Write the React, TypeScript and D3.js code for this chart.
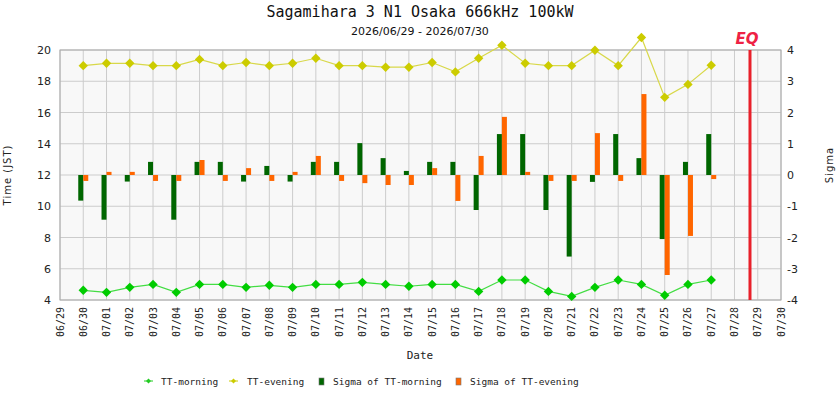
import React, { useEffect, useRef } from 'react'
import * as d3 from 'd3'

// dates of the observations (06/30 .. 07/27)
const days = [
  '06/30', '07/01', '07/02', '07/03', '07/04', '07/05', '07/06', '07/07', '07/08', '07/09',
  '07/10', '07/11', '07/12', '07/13', '07/14', '07/15', '07/16', '07/17', '07/18', '07/19',
  '07/20', '07/21', '07/22', '07/23', '07/24', '07/25', '07/26', '07/27',
]
const ttMorning = [
  4.62, 4.49, 4.81, 5.0, 4.49, 5.0, 5.0, 4.81, 4.94, 4.81,
  5.0, 5.0, 5.13, 5.0, 4.88, 5.0, 5.0, 4.55, 5.28, 5.28,
  4.55, 4.23, 4.81, 5.28, 5.0, 4.3, 5.0, 5.28,
]
const ttEvening = [
  19.0, 19.15, 19.15, 19.0, 19.0, 19.4, 19.0, 19.2, 19.0, 19.15,
  19.47, 19.0, 19.0, 18.9, 18.9, 19.2, 18.6, 19.47, 20.3, 19.15,
  19.0, 19.0, 19.98, 19.0, 20.8, 16.97, 17.8, 19.02,
]
const sigmaMorning = [
  -0.82, -1.43, -0.21, 0.42, -1.43, 0.42, 0.42, -0.21, 0.29, -0.21,
  0.42, 0.42, 1.02, 0.54, 0.13, 0.42, 0.42, -1.12, 1.31, 1.31,
  -1.12, -2.61, -0.22, 1.31, 0.54, -2.05, 0.42, 1.31,
]
const sigmaEvening = [
  -0.19, 0.1, 0.1, -0.19, -0.19, 0.48, -0.19, 0.22, -0.19, 0.1,
  0.61, -0.19, -0.26, -0.32, -0.32, 0.22, -0.83, 0.61, 1.86, 0.1,
  -0.19, -0.19, 1.34, -0.19, 2.59, -3.2, -1.95, -0.13,
]
const eqTime = new Date(Date.UTC(2026, 6, 28, 16))
const startDay = new Date(Date.UTC(2026, 5, 29))
const endDay = new Date(Date.UTC(2026, 6, 30))

const title = 'Sagamihara 3 N1 Osaka 666kHz 100kW'
const subtitle = '2026/06/29 - 2026/07/30'

const MONO = '"DejaVu Sans Mono", monospace'
const SANS = '"DejaVu Sans", sans-serif'

function toDate(s: string) {
  const [m, d] = s.split('/').map(Number)
  return new Date(Date.UTC(2026, m - 1, d))
}

function diamond(x: number, y: number, r: number) {
  return `M${x},${y - r}L${x + r},${y}L${x},${y + r}L${x - r},${y}Z`
}

export default function App() {
  const ref = useRef<SVGSVGElement | null>(null)

  useEffect(() => {
    if (!ref.current) return
    const svg = d3.select(ref.current)
    svg.selectAll('*').remove()

    const left = 60, right = 781, top = 50, bottom = 300
    const x = d3.scaleUtc().domain([startDay, endDay]).range([left, right])
    const yL = d3.scaleLinear().domain([4, 20]).range([bottom, top])
    const yR = d3.scaleLinear().domain([-4, 4]).range([bottom, top])
    const dates = days.map(toDate)

    // plot background
    svg.append('rect')
      .attr('x', left).attr('y', top)
      .attr('width', right - left).attr('height', bottom - top)
      .attr('fill', '#f8f8f8')

    // grid
    const g = svg.append('g')
    const allDays = d3.utcDay.range(startDay, d3.utcDay.offset(endDay, 1))
    g.selectAll('line.vg').data(allDays).join('line')
      .attr('x1', (d) => x(d)).attr('x2', (d) => x(d))
      .attr('y1', top).attr('y2', bottom)
      .attr('stroke', '#cccccc')
    g.selectAll('line.hg').data(d3.range(4, 21, 2)).join('line')
      .attr('x1', left).attr('x2', right)
      .attr('y1', (d) => yL(d)).attr('y2', (d) => yL(d))
      .attr('stroke', '#cccccc')

    // sigma bars
    const bw = 5
    g.selectAll('rect.sm').data(sigmaMorning).join('rect')
      .attr('x', (_, i) => x(dates[i]) - bw)
      .attr('y', (d) => yR(Math.max(0, d)))
      .attr('width', bw)
      .attr('height', (d) => Math.abs(yR(d) - yR(0)))
      .attr('fill', '#006600')
    g.selectAll('rect.se').data(sigmaEvening).join('rect')
      .attr('x', (_, i) => x(dates[i]))
      .attr('y', (d) => yR(Math.max(0, d)))
      .attr('width', bw)
      .attr('height', (d) => Math.abs(yR(d) - yR(0)))
      .attr('fill', '#ff6600')

    // frame
    svg.append('rect')
      .attr('x', left).attr('y', top)
      .attr('width', right - left).attr('height', bottom - top)
      .attr('fill', 'none').attr('stroke', '#aaaaaa')

    // lines
    const line = d3.line<number>()
      .x((_, i) => x(dates[i]))
    svg.append('path')
      .attr('d', line.y((d) => yL(d))(ttEvening))
      .attr('fill', 'none').attr('stroke', '#d8d84a').attr('stroke-width', 1.2)
    svg.append('path')
      .attr('d', line.y((d) => yL(d))(ttMorning))
      .attr('fill', 'none').attr('stroke', '#44dd44').attr('stroke-width', 1.2)
    svg.selectAll('path.me').data(ttEvening).join('path')
      .attr('d', (d, i) => diamond(x(dates[i]), yL(d), 4.7))
      .attr('fill', '#cccc00')
    svg.selectAll('path.mm').data(ttMorning).join('path')
      .attr('d', (d, i) => diamond(x(dates[i]), yL(d), 4.7))
      .attr('fill', '#00cc00')

    // EQ marker
    svg.append('line')
      .attr('x1', x(eqTime)).attr('x2', x(eqTime))
      .attr('y1', top).attr('y2', bottom)
      .attr('stroke', '#e8202a').attr('stroke-width', 3)
    svg.append('text')
      .attr('x', x(eqTime) - 3).attr('y', 44)
      .attr('text-anchor', 'middle')
      .style('font-family', SANS).style('font-size', '15px')
      .style('font-weight', 'bold').style('font-style', 'italic')
      .attr('fill', '#ee2244')
      .text('EQ')

    // axes labels
    svg.selectAll('text.yl').data(d3.range(4, 21, 2)).join('text')
      .attr('x', 51).attr('y', (d) => yL(d) + 4)
      .attr('text-anchor', 'end')
      .style('font-family', SANS).style('font-size', '11px')
      .attr('fill', '#222')
      .text((d) => d)
    svg.selectAll('text.yr').data(d3.range(-4, 5, 1)).join('text')
      .attr('x', 787).attr('y', (d) => yR(d) + 4)
      .style('font-family', SANS).style('font-size', '11px')
      .attr('fill', '#222')
      .text((d) => d)
    svg.selectAll('text.xl').data(allDays).join('text')
      .attr('transform', (d) => `translate(${x(d) + 3.5},${bottom + 7}) rotate(-90)`)
      .attr('text-anchor', 'end')
      .style('font-family', MONO).style('font-size', '10px')
      .attr('fill', '#222')
      .text((d) => d3.utcFormat('%m/%d')(d))

    svg.append('text')
      .attr('transform', `translate(11,175) rotate(-90)`)
      .attr('text-anchor', 'middle')
      .style('font-family', SANS).style('font-size', '10px')
      .style('letter-spacing', '1px')
      .attr('fill', '#222')
      .text('Time (JST)')
    svg.append('text')
      .attr('transform', `translate(833,165) rotate(-90)`)
      .attr('text-anchor', 'middle')
      .style('font-family', SANS).style('font-size', '10px')
      .style('letter-spacing', '1px')
      .attr('fill', '#222')
      .text('Sigma')
    svg.append('text')
      .attr('x', 420).attr('y', 359)
      .attr('text-anchor', 'middle')
      .style('font-family', MONO).style('font-size', '11px')
      .attr('fill', '#222')
      .text('Date')

    // titles
    svg.append('text')
      .attr('x', 420).attr('y', 17)
      .attr('text-anchor', 'middle')
      .style('font-family', MONO).style('font-size', '15px')
      .attr('fill', '#111')
      .text(title)
    svg.append('text')
      .attr('x', 420).attr('y', 35)
      .attr('text-anchor', 'middle')
      .style('font-family', SANS).style('font-size', '11px')
      .attr('fill', '#111')
      .text(subtitle)

    // legend
    const lg = svg.append('g').style('font-family', MONO).style('font-size', '9.5px')
    const ly = 381
    const lineItems = [
      { x: 148, tx: 161, c: '#22cc22', label: 'TT-morning' },
      { x: 233, tx: 247, c: '#cccc00', label: 'TT-evening' },
    ]
    lineItems.forEach((it) => {
      lg.append('line').attr('x1', it.x - 4).attr('x2', it.x + 5)
        .attr('y1', ly).attr('y2', ly).attr('stroke', it.c)
      lg.append('path').attr('d', diamond(it.x + 0.5, ly, 2.5)).attr('fill', it.c)
      lg.append('text').attr('x', it.tx).attr('y', ly + 3.5).attr('fill', '#222').text(it.label)
    })
    const boxItems = [
      { x: 319, tx: 333, c: '#006600', label: 'Sigma of TT-morning' },
      { x: 456, tx: 470, c: '#ff6600', label: 'Sigma of TT-evening' },
    ]
    boxItems.forEach((it) => {
      lg.append('rect').attr('x', it.x).attr('y', ly - 3).attr('width', 5).attr('height', 7)
        .attr('fill', it.c).attr('stroke', '#777').attr('stroke-width', 0.6)
      lg.append('text').attr('x', it.tx).attr('y', ly + 3.5).attr('fill', '#222').text(it.label)
    })
  }, [])

  return (
    <div style={{ position: 'fixed', left: 0, top: 0 }}>
      <svg ref={ref} width={840} height={400} style={{ display: 'block', background: '#fff' }} />
    </div>
  )
}
